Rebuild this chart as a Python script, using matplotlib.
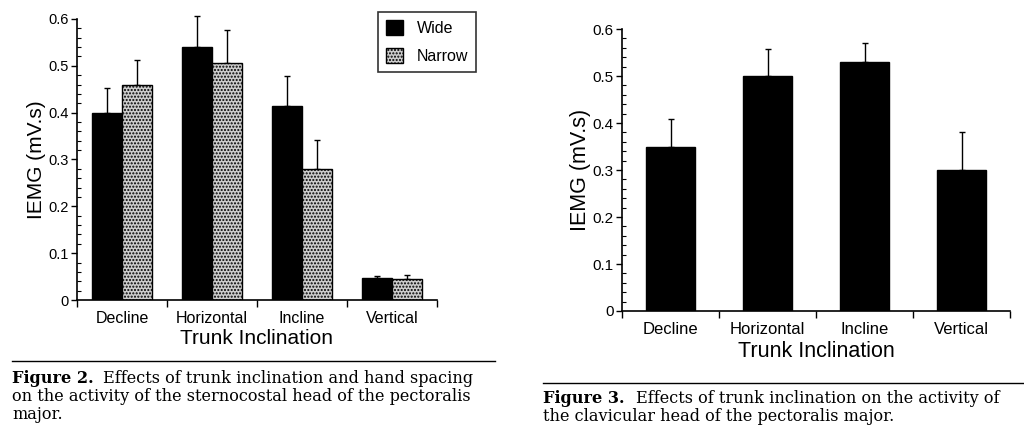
import numpy as np
import matplotlib
matplotlib.use('Agg')
import matplotlib.pyplot as plt
from matplotlib.ticker import MultipleLocator

# Data
categories = ['Decline', 'Horizontal', 'Incline', 'Vertical']
wide = [0.40, 0.54, 0.415, 0.048]
wide_sd = [0.053, 0.066, 0.064, 0.004]
narrow = [0.46, 0.506, 0.28, 0.044]
narrow_sd = [0.052, 0.07, 0.062, 0.009]
clavicular = [0.35, 0.50, 0.53, 0.30]
clavicular_sd = [0.059, 0.057, 0.04, 0.08]

yticks = [0, 0.1, 0.2, 0.3, 0.4, 0.5, 0.6]
ytick_labels = ['0', '0.1', '0.2', '0.3', '0.4', '0.5', '0.6']

caption2 = ['Effects of trunk inclination and hand spacing',
            'on the activity of the sternocostal head of the pectoralis',
            'major.']
caption3 = ['Effects of trunk inclination on the activity of',
            'the clavicular head of the pectoralis major.']

plt.rcParams['font.family'] = ['Liberation Sans', 'DejaVu Sans']
plt.rcParams['hatch.color'] = '#8a8a8a'

W, H = 1024, 440
fig = plt.figure(figsize=(W / 100, H / 100), dpi=100)


def px_axes(x0, x1, y_top, y_bot):
    return fig.add_axes([x0 / W, 1 - y_bot / H, (x1 - x0) / W, (y_bot - y_top) / H])


def style_axes(ax, tick_size, label_size, xtick_size, ylpad, xlpad):
    x = np.arange(len(categories))
    ax.set_xlim(-0.5, len(categories) - 0.5)
    ax.set_ylim(0, 0.6)
    for s in ['top', 'right']:
        ax.spines[s].set_visible(False)
    ax.spines['left'].set_linewidth(1.2)
    ax.spines['bottom'].set_linewidth(1.2)
    ax.set_yticks(yticks)
    ax.set_yticklabels(ytick_labels, fontsize=tick_size)
    ax.yaxis.set_minor_locator(MultipleLocator(0.02))
    ax.tick_params(axis='y', which='major', direction='out', length=4, width=1, pad=2)
    ax.tick_params(axis='y', which='minor', direction='in', length=3, width=0.8)
    # category boundaries as ticks, labels centred between
    ax.set_xticks(np.arange(len(categories) + 1) - 0.5)
    ax.set_xticklabels([])
    ax.set_xticks(x, minor=True)
    ax.set_xticklabels(categories, minor=True, fontsize=xtick_size)
    ax.tick_params(axis='x', which='major', direction='out', length=5, width=1)
    ax.tick_params(axis='x', which='minor', length=0, pad=8)
    ax.set_ylabel('IEMG (mV.s)', fontsize=label_size, labelpad=ylpad)
    ax.set_xlabel('Trunk Inclination', fontsize=label_size, labelpad=xlpad)


# Figure 2: sternocostal head
ax1 = px_axes(77, 437, 19, 300)
x = np.arange(len(categories))
bw = 1 / 3
ax1.bar(x - bw / 2, wide, bw, color='black', edgecolor='black', label='Wide', zorder=2)
ax1.bar(x + bw / 2, narrow, bw, color='#cdcdcd', edgecolor='black', hatch='.....',
        linewidth=1, label='Narrow', zorder=2)
for xs, vals, sd in [(x - bw / 2, wide, wide_sd), (x + bw / 2, narrow, narrow_sd)]:
    eb = ax1.errorbar(xs, vals, yerr=[np.zeros(4), sd], fmt='none',
                      ecolor='black', elinewidth=1, capsize=2, zorder=1)
    for art in eb.lines[1] + eb.lines[2]:
        art.set_clip_on(False)
style_axes(ax1, 10.5, 15, 11.5, 2, 2)
leg = ax1.legend(loc='upper left', bbox_to_anchor=(378 / W, 1 - 12 / H),
                 bbox_transform=fig.transFigure, borderaxespad=0, fontsize=11.5,
                 frameon=True, fancybox=False, edgecolor='black',
                 handlelength=1.05, handleheight=1.05, borderpad=0.5,
                 labelspacing=0.75, handletextpad=0.9)
leg.get_frame().set_linewidth(1.2)

# Figure 3: clavicular head
ax2 = px_axes(622, 1010, 29, 311)
ax2.bar(x, clavicular, 0.5, color='black', edgecolor='black', zorder=2)
eb = ax2.errorbar(x, clavicular, yerr=[np.zeros(4), clavicular_sd], fmt='none',
                  ecolor='black', elinewidth=1, capsize=2, zorder=1)
style_axes(ax2, 11, 15.5, 12, 1, 3)

# captions
serif = ['DejaVu Serif']
fig.add_artist(plt.Line2D([12 / W, 495 / W], [1 - 361 / H] * 2, color='black', lw=1))
fig.add_artist(plt.Line2D([543 / W, 1.0], [1 - 383 / H] * 2, color='black', lw=1))

cap_fs = 11.6
fig.text(12 / W, 1 - 378 / H, 'Figure 2.', family=serif, weight='bold', fontsize=cap_fs, va='center')
fig.text(103 / W, 1 - 378 / H, caption2[0], family=serif, fontsize=cap_fs, va='center')
fig.text(12 / W, 1 - 396 / H, caption2[1], family=serif, fontsize=cap_fs, va='center')
fig.text(12 / W, 1 - 414 / H, caption2[2], family=serif, fontsize=cap_fs, va='center')

fig.text(543 / W, 1 - 398 / H, 'Figure 3.', family=serif, weight='bold', fontsize=cap_fs, va='center')
fig.text(636 / W, 1 - 398 / H, caption3[0], family=serif, fontsize=cap_fs, va='center')
fig.text(543 / W, 1 - 416 / H, caption3[1], family=serif, fontsize=cap_fs, va='center')

fig.savefig('out.png', dpi=100)
